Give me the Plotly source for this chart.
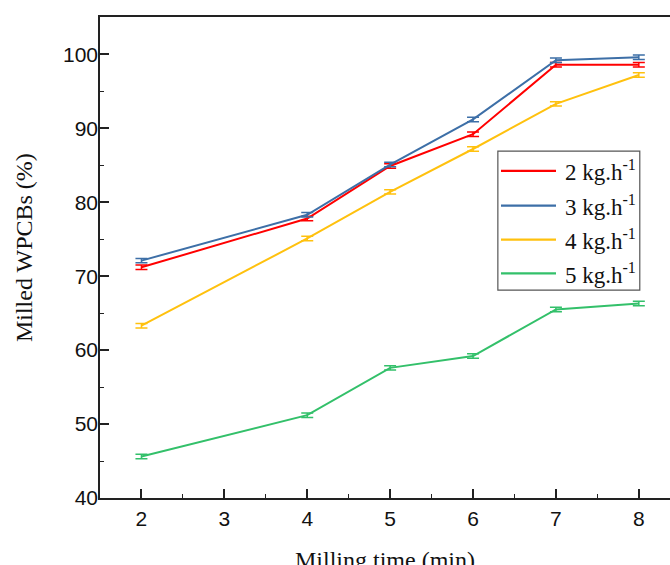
import plotly.graph_objects as go

milling_time = [2, 4, 5, 6, 7, 8]
series_names = ["2 kg.h<sup>-1</sup>", "3 kg.h<sup>-1</sup>", "4 kg.h<sup>-1</sup>", "5 kg.h<sup>-1</sup>"]
vals_2kg = [71.2, 77.8, 84.9, 89.2, 98.6, 98.6]
vals_3kg = [72.1, 78.3, 85.1, 91.2, 99.2, 99.6]
vals_4kg = [63.3, 75.1, 81.4, 87.2, 93.3, 97.2]
vals_5kg = [45.6, 51.2, 57.6, 59.2, 65.5, 66.3]
err_2kg = [0.3, 0.3, 0.3, 0.3, 0.3, 0.3]
err_3kg = [0.3, 0.3, 0.3, 0.3, 0.3, 0.3]
err_4kg = [0.3, 0.3, 0.3, 0.3, 0.3, 0.3]
err_5kg = [0.3, 0.3, 0.3, 0.3, 0.3, 0.3]
colors = ["#FF0000", "#3D6FA7", "#FFC10E", "#33C06A"]

x_ticks = [2, 3, 4, 5, 6, 7, 8]
y_ticks = [40, 50, 60, 70, 80, 90, 100]

fig = go.Figure()
all_vals = [vals_2kg, vals_3kg, vals_4kg, vals_5kg]
all_errs = [err_2kg, err_3kg, err_4kg, err_5kg]
for name, v, e, c in zip(series_names, all_vals, all_errs, colors):
    fig.add_trace(go.Scatter(
        x=milling_time, y=v, name=name, mode="lines",
        line=dict(color=c, width=2),
        error_y=dict(type="data", array=e, visible=True, color=c, thickness=1.5, width=6),
        showlegend=False,
    ))

# manual legend
legend_rows_y = [0.680, 0.608, 0.537, 0.467]
shapes = [dict(type="rect", xref="paper", yref="paper", x0=0.698, x1=0.947, y0=0.432, y1=0.721,
               line=dict(color="#555555", width=1.2), fillcolor="white", layer="above")]
annotations = []
for name, c, yy in zip(series_names, colors, legend_rows_y):
    shapes.append(dict(type="line", xref="paper", yref="paper", x0=0.7035, x1=0.800, y0=yy, y1=yy,
                       line=dict(color=c, width=2.2), layer="above"))
    annotations.append(dict(text=name, xref="paper", yref="paper", x=0.812, y=yy, xanchor="left",
                            yanchor="middle", showarrow=False,
                            font=dict(family="Liberation Serif", size=23, color="#111111")))

annotations.append(dict(text="Milling time (min)", xref="paper", yref="paper", x=0.5, y=-0.097,
                        xanchor="center", yanchor="top", showarrow=False,
                        font=dict(family="Liberation Serif", size=24, color="#111111")))
annotations.append(dict(text="Milled WPCBs (%)", xref="paper", yref="paper", x=-0.133, y=0.52,
                        xanchor="center", yanchor="middle", textangle=-90, showarrow=False,
                        font=dict(family="Liberation Serif", size=24, color="#111111")))

axis_common = dict(showgrid=False, zeroline=False, showline=True, linecolor="#222222", linewidth=1.5,
                   ticks="inside", ticklen=9, tickwidth=1.5, tickcolor="#222222",
                   tickfont=dict(family="Liberation Sans", size=21, color="#111111"))

fig.update_layout(
    width=670, height=565,
    margin=dict(l=100, r=0, t=17, b=67),
    paper_bgcolor="white", plot_bgcolor="white",
    shapes=shapes, annotations=annotations,
    xaxis=dict(range=[1.5, 8.376], tickvals=x_ticks, mirror=True, ticklabelstandoff=1,
               minor=dict(dtick=0.5, tick0=1.5, ticks="inside", ticklen=4, tickwidth=1.2, tickcolor="#222222"),
               **axis_common),
    yaxis=dict(range=[40, 105.05], tickvals=y_ticks, mirror=False, ticklabelstandoff=-4,
               minor=dict(dtick=5, tick0=40, ticks="inside", ticklen=4, tickwidth=1.2, tickcolor="#222222"),
               **axis_common),
)

fig.write_html("out.html", config={"displayModeBar": False},
               post_script="document.body.style.margin='0';document.body.style.overflow='hidden';")
